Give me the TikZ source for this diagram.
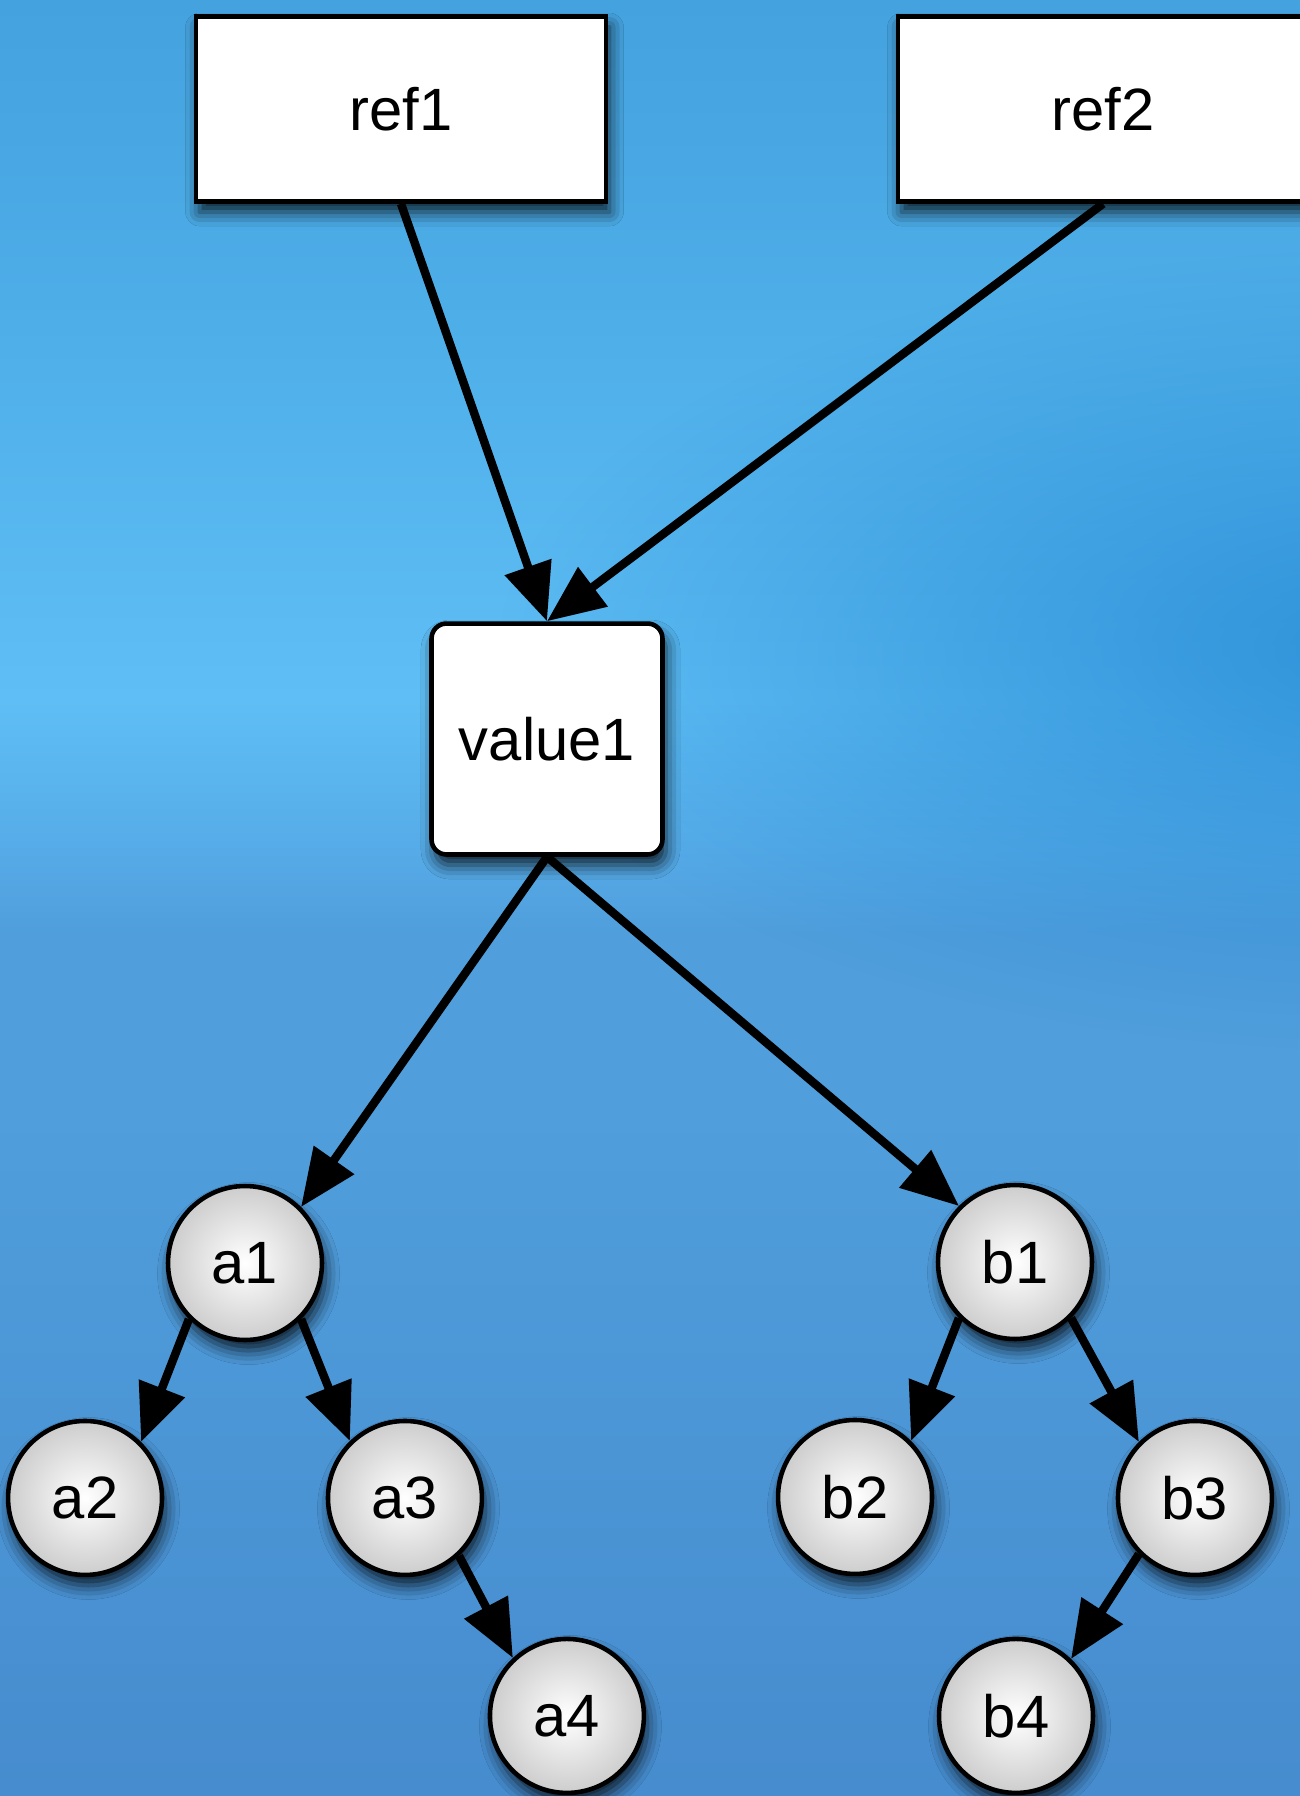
\documentclass[tikz,border=0pt]{standalone}
\usepackage{fontspec}
\setmainfont{Liberation Sans}
\usetikzlibrary{positioning, arrows.meta, shadows.blur, fadings}

\definecolor{skytop}{RGB}{68,162,222}
\definecolor{skyhigh}{RGB}{78,174,232}
\definecolor{skylight}{RGB}{95,190,245}
\definecolor{skyband}{RGB}{86,172,232}
\definecolor{skymid}{RGB}{80,158,220}
\definecolor{skylow}{RGB}{70,140,206}
\definecolor{skydeep}{RGB}{35,135,210}
\definecolor{bubble}{RGB}{205,205,205}

% sky behind the graph, light band a bit above the middle
\pgfdeclareverticalshading{sky}{100bp}{color(0bp)=(skylow); color(25bp)=(skylow);
  color(44bp)=(skymid); color(49bp)=(skymid); color(51.5bp)=(skyband);
  color(55.5bp)=(skylight); color(66bp)=(skyhigh); color(75bp)=(skytop); color(100bp)=(skytop)}
\tikzfading[name=glow, inner color=transparent!0, outer color=transparent!100]

\tikzset{
  softshadow/.style={blur shadow={shadow xshift=2pt, shadow yshift=-6pt,
      shadow blur radius=8pt, shadow opacity=80}},
  refbox/.style={rectangle, draw, line width=2.6pt, fill=white,
      minimum width=8.2cm, minimum height=3.7cm, softshadow},
  valbox/.style={rectangle, draw, line width=2.6pt, fill=white, rounded corners=0.3cm,
      minimum size=4.62cm, softshadow},
  leaf/.style={circle, draw, line width=2.6pt, inner color=white, outer color=bubble,
      minimum size=3.08cm, inner sep=0pt, softshadow},
  link/.style={line width=4.8pt, -{Triangle[length=1.15cm, width=0.95cm]}},
}

\begin{document}
\begin{tikzpicture}[x=0.02cm, y=-0.02cm, node distance=4.7cm and 3.2cm, on grid,
    font=\fontsize{34}{40}\selectfont]
  \useasboundingbox (0,0) rectangle (1300,1796);
  \fill[shading=sky] (0,0) rectangle (1300,1796);
  \fill[skydeep, fill opacity=0.8, path fading=glow] (500,250) rectangle (2300,1050);

  \node[refbox] (ref1) at (401,109) {ref1};
  \node[refbox] (ref2) at (1103,109) {ref2};
  \node[valbox] (value1) at (547,739) {value1};

  \node[leaf] (a1) at (245,1263) {a1};
  \node[leaf] (a2) [below left=of a1] {a2};
  \node[leaf] (a3) [below right=of a1] {a3};
  \node[leaf] (a4) [below right=4.36cm and 3.24cm of a3] {a4};

  \node[leaf] (b1) at (1015,1262) {b1};
  \node[leaf] (b2) [below left=of b1] {b2};
  \node[leaf] (b3) [below right=4.72cm and 3.6cm of b1] {b3};
  \node[leaf] (b4) [below left=4.36cm and 3.58cm of b3] {b4};

  \draw[link] (ref1.south) -- (value1.north);
  \draw[link] (ref2.south) -- (value1.north);
  \draw[link] (value1.south) -- (a1.45);
  \draw[link] (value1.south) -- (b1.135);
  \draw[link] (a1.225) -- (a2.45);
  \draw[link] (a1.315) -- (a3.134);
  \draw[link] (a3.313) -- (a4.133);
  \draw[link] (b1.225) -- (b2.45);
  \draw[link] (b1.315) -- (b3.135);
  \draw[link] (b3.225) -- (b4.46);
\end{tikzpicture}
\end{document}
